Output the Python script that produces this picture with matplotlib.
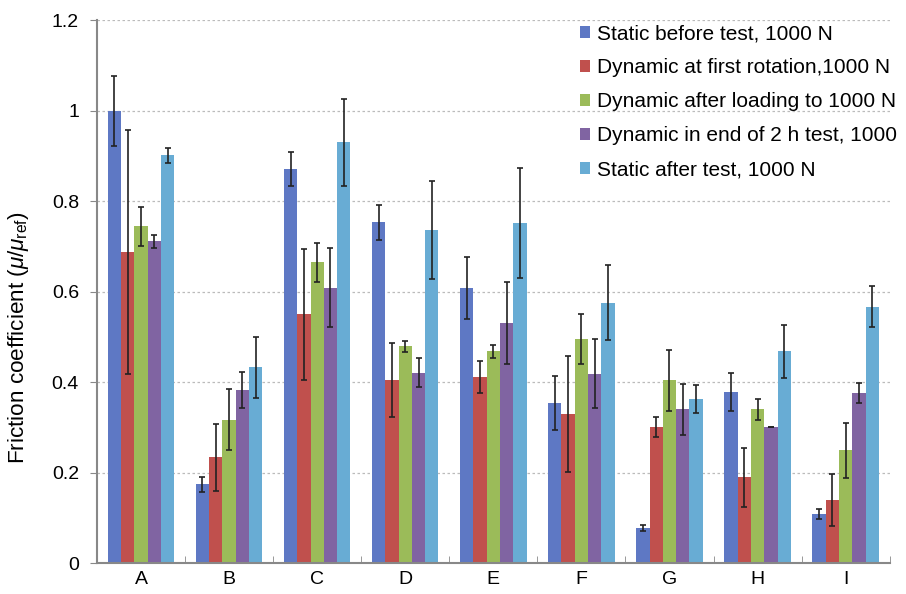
import matplotlib
matplotlib.use("Agg")
import matplotlib.pyplot as plt
import numpy as np

plt.rcParams['font.family'] = ['Liberation Sans', 'DejaVu Sans']
plt.rcParams['mathtext.fontset'] = 'custom'
plt.rcParams['mathtext.rm'] = 'Liberation Sans'
plt.rcParams['mathtext.it'] = 'Liberation Sans:italic'

categories = ['A', 'B', 'C', 'D', 'E', 'F', 'G', 'H', 'I']
series_names = ['Static before test, 1000 N',
                'Dynamic at first rotation,1000 N',
                'Dynamic after loading to 1000 N',
                'Dynamic in end of 2 h test, 1000',
                'Static after test, 1000 N']

static_before = [1.000, 0.174, 0.871, 0.753, 0.608, 0.354, 0.078, 0.378, 0.108]
static_before_err = [0.077, 0.017, 0.038, 0.038, 0.068, 0.060, 0.006, 0.042, 0.011]
dyn_first = [0.687, 0.234, 0.550, 0.404, 0.411, 0.329, 0.301, 0.190, 0.139]
dyn_first_err = [0.270, 0.074, 0.145, 0.082, 0.036, 0.128, 0.023, 0.065, 0.058]
dyn_loading = [0.745, 0.317, 0.665, 0.479, 0.468, 0.496, 0.404, 0.340, 0.249]
dyn_loading_err = [0.043, 0.067, 0.043, 0.013, 0.015, 0.055, 0.067, 0.023, 0.060]
dyn_end = [0.711, 0.383, 0.609, 0.421, 0.530, 0.419, 0.340, 0.301, 0.375]
dyn_end_err = [0.015, 0.040, 0.087, 0.032, 0.091, 0.077, 0.056, 0.000, 0.022]
static_after = [0.901, 0.433, 0.930, 0.737, 0.752, 0.576, 0.362, 0.468, 0.567]
static_after_err = [0.017, 0.067, 0.096, 0.108, 0.121, 0.083, 0.031, 0.058, 0.046]

values = [static_before, dyn_first, dyn_loading, dyn_end, static_after]
errors = [static_before_err, dyn_first_err, dyn_loading_err, dyn_end_err, static_after_err]
colors = ['#5E78C4', '#C0504D', '#9BBB59', '#8064A2', '#68ACD4']

yticks = [0, 0.2, 0.4, 0.6, 0.8, 1.0, 1.2]
ytick_labels = ['0', '0.2', '0.4', '0.6', '0.8', '1', '1.2']

fig = plt.figure(figsize=(9.06, 5.94), dpi=100)
ax = fig.add_axes([0.107, 0.052, 0.875, 0.914])

x = np.arange(len(categories))
w = 0.151
for i, (vals, errs, c, name) in enumerate(zip(values, errors, colors, series_names)):
    ax.bar(x + (i - 2) * w, vals, width=w, color=c, label=name, zorder=2,
           yerr=errs, error_kw=dict(ecolor='#222222', elinewidth=1.2, capsize=2.5, capthick=1.2, zorder=3))

ax.set_xlim(-0.5, len(categories) - 0.5)
ax.set_ylim(0, 1.2)
ax.set_yticks(yticks)
ax.set_yticklabels(ytick_labels, fontsize=14)
ax.set_xticks(x)
ax.set_xticklabels(categories, fontsize=14)
ax.set_xticks(np.arange(len(categories) + 1) - 0.5, minor=True)
ax.tick_params(axis='x', which='major', length=0, pad=6)
ax.tick_params(axis='x', which='minor', direction='in', length=5, color='#888888')
ax.tick_params(axis='y', direction='out', length=5, color='#888888', pad=8)

ax.yaxis.grid(True, linestyle=(0, (2, 2)), color='#bbbbbb', linewidth=0.9, zorder=0)
ax.set_axisbelow(True)
for s in ['top', 'right']:
    ax.spines[s].set_visible(False)
for s in ['left', 'bottom']:
    ax.spines[s].set_color('#888888')
    ax.spines[s].set_linewidth(1.5)

ax.set_ylabel(r'Friction coefficient ($\mu/\mu_{\rm ref}$)', fontsize=16.2)
ax.yaxis.set_label_coords(-0.083, 0.416)

leg = fig.legend(*ax.get_legend_handles_labels(), loc='upper left',
                 bbox_to_anchor=(580 / 906, 1 - 24 / 594), bbox_transform=fig.transFigure,
                 frameon=False, fontsize=15, borderaxespad=0, borderpad=0,
                 handlelength=0.5, handleheight=0.5, handletextpad=0.3, labelspacing=0.72)

fig.savefig('out.png', dpi=100, facecolor='white')
